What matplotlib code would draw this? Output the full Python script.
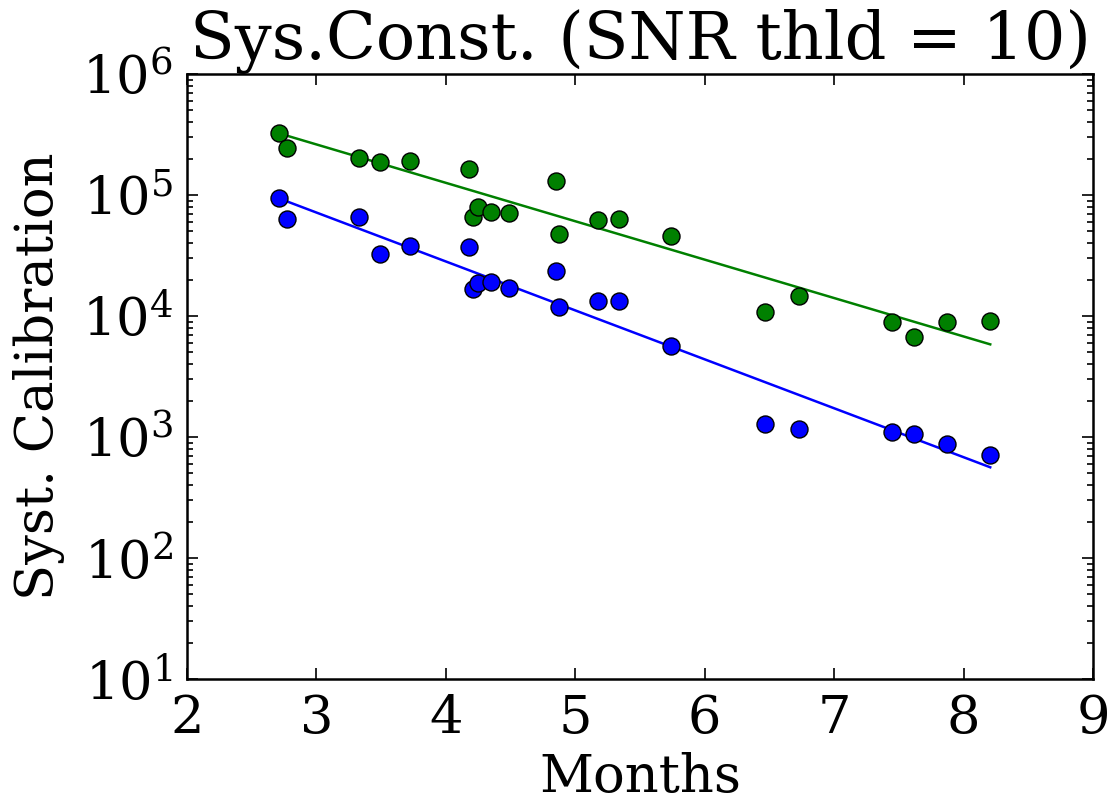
import numpy as np
import matplotlib
matplotlib.use("Agg")
import matplotlib.pyplot as plt

months = [2.708, 2.775, 3.329, 3.491, 3.725, 4.181, 4.212, 4.251, 4.351, 4.486,
          4.853, 4.872, 5.178, 5.334, 5.742, 6.466, 6.728, 7.447, 7.615, 7.874, 8.206]
green_vals = [3.27e5, 2.46e5, 2.03e5, 1.87e5, 1.90e5, 1.64e5, 6.62e4, 8.0e4, 7.24e4, 7.15e4,
              1.31e5, 4.79e4, 6.21e4, 6.34e4, 4.62e4, 1.07e4, 1.47e4, 8.9e3, 6.67e3, 8.87e3, 9.1e3]
blue_vals = [9.4e4, 6.37e4, 6.62e4, 3.24e4, 3.77e4, 3.74e4, 1.68e4, 1.88e4, 1.91e4, 1.70e4,
             2.34e4, 1.19e4, 1.34e4, 1.34e4, 5.68e3, 1.27e3, 1.16e3, 1.11e3, 1.06e3, 880, 710]
fit_x = [2.708, 8.206]
green_fit = [3.24e5, 5.83e3]
blue_fit = [9.4e4, 562]

plt.rcParams['font.family'] = ['DejaVu Serif']
plt.rcParams['mathtext.fontset'] = 'dejavuserif'
plt.rcParams['mathtext.default'] = 'regular'
FS = 38

fig = plt.figure(figsize=(11.14, 8.02), dpi=100)
ax = fig.add_axes([187/1114, 1 - 679/802, (1093-187)/1114, (679-74)/802])

ax.plot(fit_x, green_fit, color=(0, 0.5, 0), lw=1.8, zorder=2)
ax.plot(fit_x, blue_fit, color=(0, 0, 1), lw=1.8, zorder=2)
ax.scatter(months, green_vals, s=150, color=(0, 0.5, 0), edgecolors='black', linewidths=1.0, zorder=3)
ax.scatter(months, blue_vals, s=150, color=(0, 0, 1), edgecolors='black', linewidths=1.0, zorder=3)

ax.set_yscale('log')
ax.set_xlim(2, 9)
ax.set_ylim(10, 1e6)
ax.set_xticks(range(2, 10))
ax.set_xlabel('Months', fontsize=FS, labelpad=6)
ax.set_ylabel('Syst. Calibration', fontsize=FS, labelpad=12)
ax.set_title('Sys.Const. (SNR thld = 10)', fontsize=47, pad=2)
ax.tick_params(which='both', direction='in', top=True, right=True, labelsize=FS, width=1.2)
ax.tick_params(which='major', length=8, pad=10)
ax.tick_params(which='minor', length=4)
for s in ax.spines.values():
    s.set_linewidth(1.8)

fig.savefig('out.png', dpi=100)
